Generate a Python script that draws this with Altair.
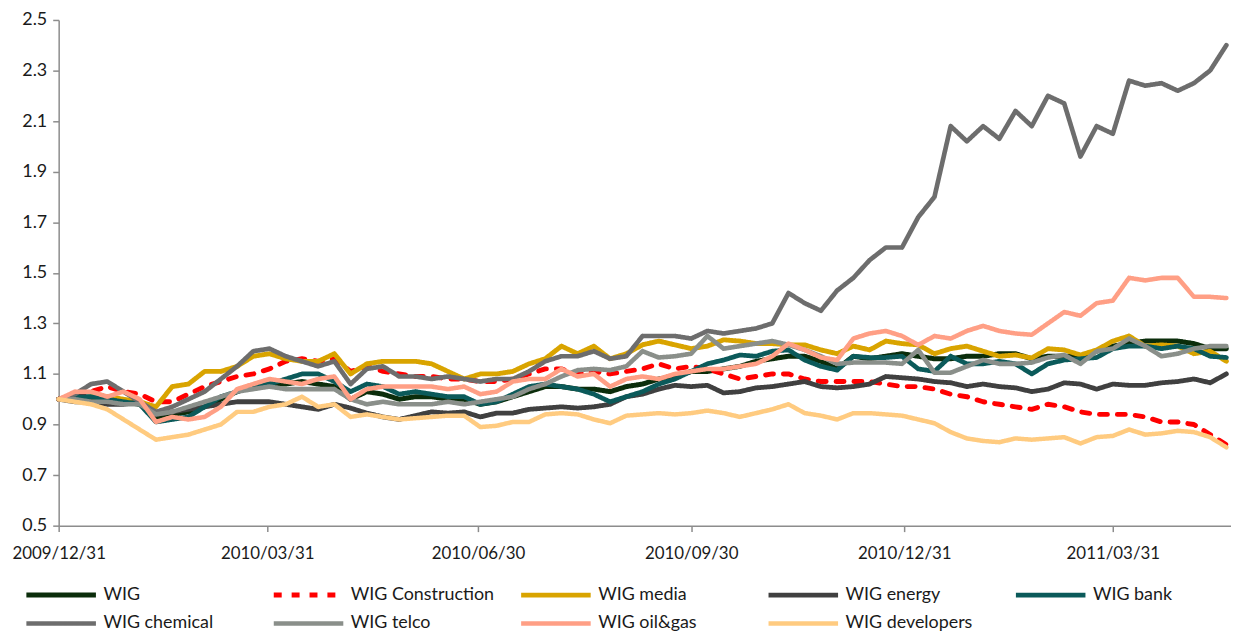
import altair as alt
import pandas as pd

# weekly observation dates (Thursdays), 2009-12-31 .. 2011-05-19
dates = pd.date_range("2009-12-31", periods=73, freq="7D").strftime("%Y-%m-%d").tolist()

names = ["WIG", "WIG Construction", "WIG media", "WIG energy", "WIG bank",
         "WIG chemical", "WIG telco", "WIG oil&gas", "WIG developers"]

wig = [1.00, 1.00, 1.00, 0.99, 0.99, 0.98, 0.93, 0.94, 0.95, 0.97,
       1.00, 1.03, 1.05, 1.06, 1.06, 1.07, 1.06, 1.05, 1.00, 1.03,
       1.02, 1.00, 1.01, 1.01, 1.00, 1.00, 0.98, 0.99, 1.01, 1.03,
       1.05, 1.05, 1.04, 1.04, 1.03, 1.05, 1.06, 1.08, 1.09, 1.11,
       1.11, 1.12, 1.13, 1.15, 1.16, 1.17, 1.17, 1.15, 1.12, 1.17,
       1.16, 1.17, 1.18, 1.17, 1.16, 1.16, 1.17, 1.17, 1.18, 1.18,
       1.16, 1.17, 1.17, 1.17, 1.19, 1.21, 1.22, 1.23, 1.23, 1.23,
       1.22, 1.20, 1.20]
construction = [1.00, 1.01, 1.03, 1.05, 1.03, 1.02, 0.99, 0.99, 1.02, 1.05,
                1.07, 1.09, 1.10, 1.12, 1.15, 1.16, 1.15, 1.16, 1.11, 1.13,
                1.11, 1.10, 1.09, 1.09, 1.08, 1.08, 1.07, 1.07, 1.08, 1.10,
                1.12, 1.12, 1.10, 1.11, 1.10, 1.11, 1.12, 1.14, 1.12, 1.13,
                1.12, 1.10, 1.08, 1.09, 1.10, 1.10, 1.08, 1.07, 1.07, 1.07,
                1.07, 1.06, 1.05, 1.05, 1.04, 1.02, 1.01, 0.99, 0.98, 0.97,
                0.96, 0.98, 0.97, 0.95, 0.94, 0.94, 0.94, 0.93, 0.91, 0.91,
                0.90, 0.86, 0.82]
media = [1.00, 1.00, 1.01, 1.01, 1.00, 0.99, 0.97, 1.05, 1.06, 1.11,
         1.11, 1.13, 1.17, 1.18, 1.16, 1.15, 1.15, 1.18, 1.10, 1.14,
         1.15, 1.15, 1.15, 1.14, 1.11, 1.08, 1.10, 1.10, 1.11, 1.14,
         1.16, 1.21, 1.18, 1.21, 1.16, 1.18, 1.215, 1.23, 1.215, 1.20,
         1.21, 1.235, 1.23, 1.22, 1.22, 1.215, 1.215, 1.195, 1.18, 1.21,
         1.195, 1.23, 1.22, 1.215, 1.18, 1.20, 1.21, 1.19, 1.17, 1.175,
         1.163, 1.20, 1.195, 1.175, 1.195, 1.23, 1.25, 1.21, 1.215, 1.21,
         1.18, 1.19, 1.15]
energy = [1.00, 0.99, 0.99, 0.98, 0.98, 0.99, 0.94, 0.95, 0.96, 0.97,
          0.98, 0.99, 0.99, 0.99, 0.98, 0.97, 0.96, 0.98, 0.965, 0.945,
          0.93, 0.92, 0.935, 0.95, 0.945, 0.95, 0.93, 0.945, 0.945, 0.96,
          0.965, 0.97, 0.965, 0.97, 0.98, 1.01, 1.02, 1.04, 1.055, 1.05,
          1.055, 1.025, 1.03, 1.045, 1.05, 1.06, 1.07, 1.05, 1.045, 1.05,
          1.06, 1.09, 1.085, 1.08, 1.07, 1.065, 1.05, 1.06, 1.05, 1.045,
          1.03, 1.04, 1.065, 1.06, 1.04, 1.06, 1.055, 1.055, 1.065, 1.07,
          1.08, 1.065, 1.10]
bank = [1.00, 1.01, 1.01, 1.00, 0.99, 0.98, 0.91, 0.92, 0.93, 0.97,
        1.01, 1.03, 1.05, 1.06, 1.08, 1.10, 1.10, 1.07, 1.03, 1.06,
        1.05, 1.02, 1.03, 1.02, 1.01, 1.01, 0.98, 0.99, 1.02, 1.05,
        1.06, 1.05, 1.04, 1.02, 0.99, 1.01, 1.03, 1.06, 1.08, 1.11,
        1.14, 1.155, 1.175, 1.17, 1.19, 1.195, 1.155, 1.13, 1.115, 1.17,
        1.165, 1.165, 1.17, 1.12, 1.11, 1.17, 1.14, 1.14, 1.15, 1.14,
        1.10, 1.14, 1.155, 1.16, 1.165, 1.20, 1.21, 1.21, 1.20, 1.21,
        1.20, 1.17, 1.165]
chemical = [1.00, 1.02, 1.06, 1.07, 1.03, 0.99, 0.95, 0.97, 1.00, 1.03,
            1.08, 1.13, 1.19, 1.20, 1.17, 1.15, 1.13, 1.15, 1.06, 1.12,
            1.13, 1.09, 1.09, 1.08, 1.09, 1.08, 1.07, 1.08, 1.08, 1.11,
            1.15, 1.17, 1.17, 1.19, 1.16, 1.17, 1.25, 1.25, 1.25, 1.24,
            1.27, 1.26, 1.27, 1.28, 1.30, 1.42, 1.38, 1.35, 1.43, 1.48,
            1.55, 1.60, 1.60, 1.72, 1.80, 2.08, 2.02, 2.08, 2.03, 2.14,
            2.08, 2.20, 2.17, 1.96, 2.08, 2.05, 2.26, 2.24, 2.25, 2.22,
            2.25, 2.30, 2.40]
telco = [1.00, 1.00, 0.99, 0.99, 0.98, 0.98, 0.94, 0.95, 0.97, 0.99,
         1.01, 1.03, 1.04, 1.05, 1.04, 1.04, 1.04, 1.04, 1.00, 0.98,
         0.99, 0.98, 0.98, 0.98, 0.99, 0.98, 0.99, 1.00, 1.01, 1.04,
         1.06, 1.09, 1.115, 1.12, 1.115, 1.13, 1.19, 1.165, 1.17, 1.18,
         1.25, 1.20, 1.21, 1.22, 1.23, 1.215, 1.195, 1.17, 1.14, 1.145,
         1.145, 1.145, 1.14, 1.195, 1.105, 1.105, 1.13, 1.155, 1.14, 1.14,
         1.145, 1.165, 1.175, 1.14, 1.19, 1.20, 1.24, 1.21, 1.17, 1.18,
         1.20, 1.21, 1.21]
oilgas = [1.00, 1.03, 1.03, 1.01, 1.03, 1.00, 0.91, 0.93, 0.92, 0.93,
          0.97, 1.04, 1.06, 1.08, 1.07, 1.06, 1.08, 1.09, 1.00, 1.04,
          1.05, 1.05, 1.05, 1.05, 1.04, 1.05, 1.02, 1.03, 1.07, 1.08,
          1.08, 1.12, 1.09, 1.10, 1.05, 1.08, 1.09, 1.08, 1.10, 1.11,
          1.12, 1.12, 1.13, 1.14, 1.17, 1.22, 1.195, 1.165, 1.155, 1.24,
          1.26, 1.27, 1.25, 1.215, 1.25, 1.24, 1.27, 1.29, 1.27, 1.26,
          1.255, 1.30, 1.345, 1.33, 1.38, 1.39, 1.48, 1.47, 1.48, 1.48,
          1.405, 1.405, 1.40]
developers = [1.00, 0.99, 0.98, 0.96, 0.92, 0.88, 0.84, 0.85, 0.86, 0.88,
              0.90, 0.95, 0.95, 0.97, 0.98, 1.01, 0.97, 0.98, 0.93, 0.94,
              0.93, 0.92, 0.925, 0.93, 0.935, 0.935, 0.89, 0.895, 0.91, 0.91,
              0.94, 0.945, 0.94, 0.92, 0.905, 0.935, 0.94, 0.945, 0.94, 0.945,
              0.955, 0.945, 0.93, 0.945, 0.96, 0.98, 0.945, 0.935, 0.92, 0.945,
              0.945, 0.94, 0.935, 0.92, 0.905, 0.87, 0.845, 0.835, 0.83, 0.845,
              0.84, 0.845, 0.85, 0.825, 0.85, 0.855, 0.88, 0.86, 0.865, 0.875,
              0.87, 0.85, 0.81]

series_values = [wig, construction, media, energy, bank, chemical, telco, oilgas, developers]

colors = ["#0b2d0b", "#ff0000", "#d9a400", "#404040", "#0b5a5a",
          "#6d6d6d", "#8a8f8a", "#ff9f85", "#ffcb80"]
dashes = [[1, 0], [8, 10], [1, 0], [1, 0], [1, 0], [1, 0], [1, 0], [1, 0], [1, 0]]
widths = [5, 4.5, 3, 3, 3, 3.5, 3, 3, 3]

y_ticks = [0.5, 0.7, 0.9, 1.1, 1.3, 1.5, 1.7, 1.9, 2.1, 2.3, 2.5]

rows = []
for name, vals in zip(names, series_values):
    for d, v in zip(dates, vals):
        rows.append({"date": d, "value": v, "series": name})
df = pd.DataFrame(rows)

FONT = "Lato"

def utc(y, m, d):
    return alt.DateTime(year=y, month=m, date=d, utc=True)

x_ticks = [utc(2009, 12, 31), utc(2010, 3, 31), utc(2010, 6, 30),
           utc(2010, 9, 30), utc(2010, 12, 31), utc(2011, 3, 31)]

legend = alt.Legend(title=None, orient="none", direction="horizontal",
                    legendX=-10, legendY=566,
                    columns=5, symbolType="M-3.5,0H3.5", symbolSize=400,
                    symbolStrokeWidth=5, labelFont=FONT, labelFontSize=18,
                    labelColor="#1a1a1a", labelOffset=30, gridAlign="all",
                    columnPadding=16, rowPadding=6)

chart = alt.Chart(df).mark_line(strokeCap="round", strokeJoin="round").encode(
    x=alt.X("date:T",
            scale=alt.Scale(type="utc", domain=[utc(2009, 12, 31), utc(2011, 5, 21)]),
            axis=alt.Axis(values=x_ticks, title=None, grid=False,
                          labelExpr="utcFormat(datum.value, '%Y/%m/%d')",
                          labelFont=FONT, labelFontSize=17, labelColor="#1a1a1a",
                          labelPadding=14, labelFlush=False, labelOverlap=False,
                          domainColor="#8c8c8c", domainWidth=1.5,
                          tickColor="#8c8c8c", tickWidth=1.5, tickSize=6)),
    y=alt.Y("value:Q",
            scale=alt.Scale(domain=[0.5, 2.5], nice=False, zero=False),
            axis=alt.Axis(values=y_ticks, format=".1f", title=None, grid=False,
                          labelFont=FONT, labelFontSize=18, labelColor="#1a1a1a",
                          labelPadding=6, labelFlush=False,
                          domainColor="#8c8c8c", domainWidth=1.5,
                          tickColor="#8c8c8c", tickWidth=1.5, tickSize=6)),
    color=alt.Color("series:N", sort=names,
                    scale=alt.Scale(domain=names, range=colors), legend=legend),
    strokeDash=alt.StrokeDash("series:N", sort=names,
                              scale=alt.Scale(domain=names, range=dashes), legend=legend),
    strokeWidth=alt.StrokeWidth("series:N", sort=names,
                                scale=alt.Scale(domain=names, range=widths), legend=None),
).properties(
    width=1180, height=509,
    padding={"left": 51, "top": 10, "right": 0, "bottom": 106},
    autosize=alt.AutoSizeParams(type="none"),
).configure_view(stroke=None)

chart.save("out.html", embed_options={"renderer": "svg", "actions": False})
